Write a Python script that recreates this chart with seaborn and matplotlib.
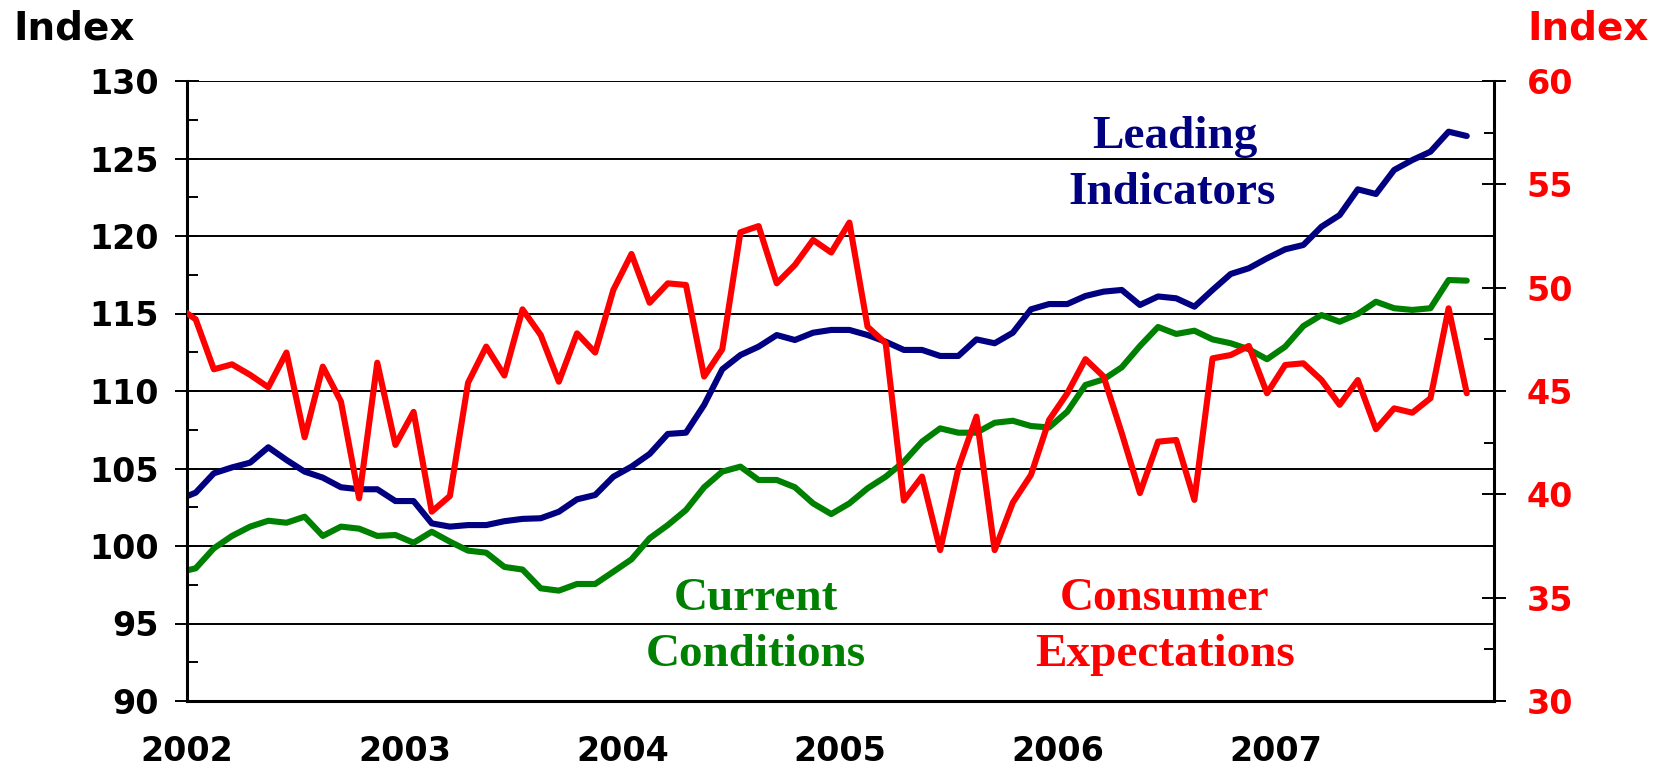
import numpy as np
import pandas as pd
import matplotlib
matplotlib.use("Agg")
import matplotlib.pyplot as plt
import seaborn as sns
from matplotlib.ticker import MultipleLocator, FixedLocator, FixedFormatter

# ---------------- data (monthly, Dec 2001 .. Nov 2007) ----------------
months = pd.period_range("2001-12", "2007-11", freq="M")

leading = [102.97,
           103.44, 104.69, 105.07, 105.38, 106.37, 105.55, 104.80, 104.41, 103.79, 103.66, 103.66, 102.90,
           102.90, 101.46, 101.25, 101.35, 101.35, 101.60, 101.75, 101.79, 102.21, 103.01, 103.29, 104.47,
           105.12, 105.94, 107.23, 107.31, 109.10, 111.40, 112.32, 112.86, 113.61, 113.29, 113.76, 113.94,
           113.94, 113.61, 113.18, 112.65, 112.65, 112.26, 112.26, 113.33, 113.08, 113.76, 115.27, 115.61,
           115.61, 116.13, 116.41, 116.52, 115.55, 116.10, 115.98, 115.44, 116.52, 117.55, 117.92, 118.56,
           119.14, 119.42, 120.60, 121.35, 123.01, 122.71, 124.26, 124.90, 125.44, 126.73, 126.45]

current = [98.28,
           98.56, 99.85, 100.65, 101.25, 101.63, 101.50, 101.89, 100.65, 101.25, 101.12, 100.65, 100.71,
           100.21, 100.92, 100.28, 99.70, 99.57, 98.65, 98.48, 97.27, 97.12, 97.55, 97.55, 98.34,
           99.14, 100.50, 101.35, 102.32, 103.79, 104.80, 105.12, 104.26, 104.26, 103.79, 102.75, 102.06,
           102.75, 103.72, 104.47, 105.44, 106.73, 107.59, 107.31, 107.31, 107.95, 108.08, 107.74, 107.65,
           108.67, 110.39, 110.75, 111.53, 112.90, 114.13, 113.68, 113.89, 113.33, 113.08, 112.69, 112.05,
           112.86, 114.19, 114.90, 114.47, 114.97, 115.76, 115.34, 115.23, 115.34, 117.16, 117.12]

expectations = [49.08,
                48.47, 46.05, 46.29, 45.78, 45.18, 46.86, 42.76, 46.18, 44.49, 39.81, 46.37, 42.39,
                43.99, 39.16, 39.92, 45.40, 47.15, 45.75, 48.95, 47.71, 45.45, 47.79, 46.86, 49.89,
                51.63, 49.27, 50.21, 50.13, 45.70, 47.02, 52.68, 52.98, 50.21, 51.10, 52.31, 51.70,
                53.15, 48.11, 47.31, 39.70, 40.86, 37.30, 41.26, 43.76, 37.30, 39.60, 40.94, 43.60,
                44.89, 46.54, 45.70, 42.96, 40.06, 42.55, 42.63, 39.73, 46.58, 46.74, 47.18, 44.89,
                46.26, 46.34, 45.53, 44.33, 45.53, 43.15, 44.16, 43.95, 44.65, 49.00, 44.89]

year_labels = ["2002", "2003", "2004", "2005", "2006", "2007", ""]
left_ticks = [90, 95, 100, 105, 110, 115, 120, 125, 130]
right_ticks = [30, 35, 40, 45, 50, 55, 60]

# ---------------- figure ----------------
sns.set_style("white")
plt.rcParams['font.family'] = ['DejaVu Sans']
plt.rcParams['font.weight'] = 'bold'

W, H = 1663, 773
fig = plt.figure(figsize=(W / 100, H / 100), dpi=100)
left, right, top, bottom = 186.6, 1494, 81, 701
ax = fig.add_axes([left / W, 1 - bottom / H, (right - left) / W, (bottom - top) / H])

df = pd.DataFrame({
    "x": [p.year + (p.month - 0.5) / 12 for p in months],
    "Leading Indicators": leading,
    "Current Conditions": current,
    "Consumer Expectations": expectations,
})

lw = 4.4
sns.lineplot(data=df, x="x", y="Leading Indicators", ax=ax, color="#000080", lw=lw,
             solid_joinstyle="round", solid_capstyle="round")
sns.lineplot(data=df, x="x", y="Current Conditions", ax=ax, color="#008000", lw=lw,
             solid_joinstyle="round", solid_capstyle="round")
ax2 = ax.twinx()
sns.lineplot(data=df, x="x", y="Consumer Expectations", ax=ax2, color="#FF0000", lw=lw,
             solid_joinstyle="round", solid_capstyle="round")

ax.set_xlim(2002, 2008)
ax.set_ylim(90, 130)
ax2.set_ylim(30, 60)
for a in (ax, ax2):
    a.set_xlabel("")
    a.set_ylabel("")

# x ticks
ax.xaxis.set_major_locator(FixedLocator([2002, 2003, 2004, 2005, 2006, 2007, 2008]))
ax.xaxis.set_major_formatter(FixedFormatter(year_labels))
ax.xaxis.set_minor_locator(MultipleLocator(0.25))
# y ticks
ax.yaxis.set_major_locator(FixedLocator(left_ticks))
ax.yaxis.set_minor_locator(MultipleLocator(2.5))
ax2.yaxis.set_major_locator(FixedLocator(right_ticks))
ax2.yaxis.set_minor_locator(MultipleLocator(2.5))

ax.tick_params(axis="x", which="major", direction="inout", length=17, width=1.4,
               labelsize=24, pad=16, color="black", labelcolor="black")
ax.tick_params(axis="x", which="minor", direction="in", length=8, width=1.4, color="black")
ax.tick_params(axis="y", which="major", direction="inout", length=17, width=1.4,
               labelsize=24, pad=11.5, color="black", labelcolor="black")
ax.tick_params(axis="y", which="minor", direction="in", length=8, width=1.4, color="black")
ax2.tick_params(axis="y", which="major", direction="inout", length=17, width=1.4,
                labelsize=24, pad=15, color="black", labelcolor="#FF0000")
ax2.tick_params(axis="y", which="minor", direction="in", length=7, width=1.4, color="black")

# grid
ax.yaxis.grid(True, which="major", color="black", lw=1.4)
ax.xaxis.grid(False)
ax.set_axisbelow(True)

# spines
for a in (ax, ax2):
    for s in a.spines.values():
        s.set_visible(False)
ax.spines["left"].set_visible(True)
ax.spines["bottom"].set_visible(True)
ax2.spines["right"].set_visible(True)
for s in (ax.spines["left"], ax.spines["bottom"], ax2.spines["right"]):
    s.set_color("black")
    s.set_linewidth(2.2)

# axis titles
fig.text(13 / W, 1 - 10 / H, "Index", ha="left", va="top", fontsize=28,
         fontweight="bold", color="black")
fig.text(1527 / W, 1 - 10 / H, "Index", ha="left", va="top", fontsize=28,
         fontweight="bold", color="#FF0000")

# series labels
serif = dict(family="Liberation Serif", fontweight="bold", fontsize=34,
             ha="center", va="baseline")
fig.text(1175 / W, 1 - 148 / H, "Leading", color="#000080", **serif)
fig.text(1172 / W, 1 - 204 / H, "Indicators", color="#000080", **serif)
fig.text(756 / W, 1 - 610 / H, "Current", color="#008000", **serif)
fig.text(756 / W, 1 - 666 / H, "Conditions", color="#008000", **serif)
fig.text(1165 / W, 1 - 610 / H, "Consumer", color="#FF0000", **serif)
fig.text(1165 / W, 1 - 666 / H, "Expectations", color="#FF0000", **serif)

fig.savefig("out.png", dpi=100)
